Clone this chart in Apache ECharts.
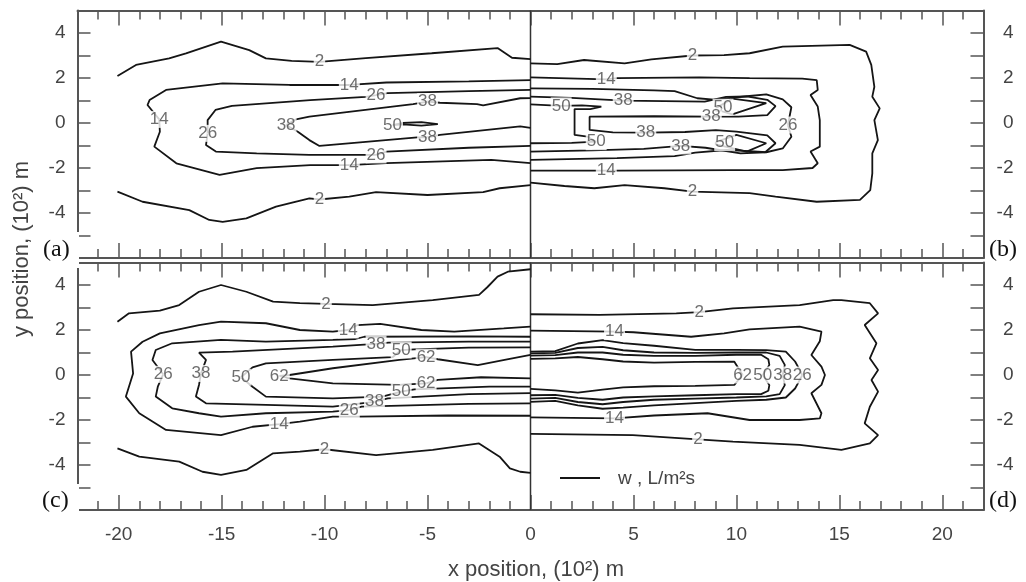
<!DOCTYPE html>
<html><head><meta charset="utf-8">
<script src="https://cdn.jsdelivr.net/npm/echarts@6/dist/echarts.min.js"></script>
<style>html,body{margin:0;padding:0;background:#fff}#c{width:1026px;height:582px}</style>
</head><body><div id="c"></div>
<script>
// ---------- tick labels ----------
const xTicks = ['-22','-21','-20','-19','-18','-17','-16','-15','-14','-13','-12','-11','-10','-9','-8','-7','-6','-5','-4','-3','-2','-1','0','1','2','3','4','5','6','7','8','9','10','11','12','13','14','15','16','17','18','19','20','21','22'];
const xMajor = ['-20','-15','-10','-5','0','5','10','15','20'];
const yLabeled = [-4,-2,0,2,4];

// ---------- panel (a): top-left ----------
const a2Up = [[-20.06,2.09],[-19.16,2.58],[-17.55,2.87],[-16.73,3.09],[-15.03,3.62],[-13.66,3.24],[-12.85,2.87],[-11.6,2.76],[-10.25,2.72],[-8.0,2.88],[-4.8,3.1],[-1.6,3.33],[-0.9,2.9],[0,2.84]];
const a2Low = [[-20.06,-3.05],[-18.84,-3.5],[-16.57,-3.87],[-15.6,-4.31],[-14.95,-4.39],[-13.8,-4.24],[-12.36,-3.72],[-10.74,-3.35],[-10.25,-3.4],[-8.8,-3.27],[-7.5,-3.07],[-5.0,-3.2],[-2.3,-3.07],[-1.5,-2.9],[0,-2.76]];
const a14 = [[0,1.91],[-3,1.85],[-7.0,1.8],[-8.8,1.69],[-10.7,1.69],[-11.7,1.69],[-14.95,1.76],[-17.7,1.47],[-18.5,1.02],[-18.6,0.8],[-18.03,0.16],[-18.0,-0.39],[-18.27,-1.05],[-17.2,-1.79],[-15.1,-2.31],[-13.3,-2.01],[-10.7,-1.87],[-8.8,-1.87],[-7.0,-1.78],[-1.9,-1.64],[0,-1.78]];
const a26 = [[0,1.47],[-3,1.42],[-6.95,1.33],[-7.5,1.24],[-8.0,1.16],[-10.7,1.02],[-14.5,0.76],[-15.3,0.58],[-15.68,0.13],[-15.68,-0.46],[-15.76,-0.98],[-15.28,-1.27],[-13.3,-1.35],[-10.74,-1.42],[-7.5,-1.42],[-7.0,-1.27],[-3,-1.1],[0,-1.02]];
const a38 = [[0,1.11],[-0.5,1.1],[-2.3,0.78],[-2.6,0.84],[-4.4,0.9],[-5.0,0.95],[-5.7,0.84],[-10.74,0.28],[-11.39,0.16],[-11.87,-0.09],[-11.3,-0.39],[-10.74,-0.76],[-10.25,-1.02],[-8.0,-0.84],[-5.5,-0.64],[-5.0,-0.64],[-4.4,-0.53],[-0.5,-0.15],[0,-0.22]];
const a50 = [[-6.7,-0.09],[-6.2,0.0],[-5.3,0.04],[-4.5,-0.05],[-5.3,-0.12],[-6.2,-0.06],[-6.7,-0.09]];
const aLabels = [[-10.25,2.72,'2'],[-10.25,-3.4,'2'],[-18.03,0.16,'14'],[-8.8,1.69,'14'],[-8.8,-1.87,'14'],[-15.68,-0.46,'26'],[-7.5,1.24,'26'],[-7.5,-1.42,'26'],[-11.87,-0.09,'38'],[-5.0,0.95,'38'],[-5.0,-0.64,'38'],[-6.7,-0.09,'50']];

// ---------- panel (b): top-right ----------
const b2 = [[0,2.65],[1.3,2.62],[2.6,2.8],[4.57,2.65],[5.87,2.83],[7.87,3.0],[9.4,3.02],[10.64,3.1],[12.25,3.39],[15.5,3.47],[16.3,3.17],[16.55,2.58],[16.7,1.61],[16.6,1.17],[16.96,0.65],[16.7,0.13],[16.87,-0.76],[16.6,-1.35],[16.6,-2.24],[16.5,-2.98],[16.0,-3.42],[13.9,-3.5],[11.9,-3.27],[10.64,-3.12],[7.87,-3.05],[6.5,-2.9],[4.57,-2.76],[3.1,-2.9],[1.65,-2.8],[0,-2.65]];
const b14 = [[0,2.03],[3.68,1.94],[4.2,1.99],[8.2,2.03],[10.64,1.99],[13.2,1.97],[13.9,1.91],[13.95,1.47],[13.6,1.24],[13.95,0.73],[14.05,0.13],[14.05,-1.05],[13.6,-1.27],[13.95,-1.79],[13.7,-2.0],[12.25,-2.09],[9.8,-2.09],[4.2,-2.12],[3.68,-2.12],[0,-2.12]];
const b26 = [[0,1.54],[3.0,1.52],[6.0,1.45],[7.0,1.42],[8.1,1.1],[8.9,1.04],[10.64,1.2],[11.45,1.27],[12.25,1.05],[12.67,0.7],[12.5,-0.09],[12.67,-0.61],[12.25,-1.13],[11.45,-1.3],[10.64,-1.25],[9.5,-1.2],[8,-1.32],[7,-1.47],[4.2,-1.56],[0,-1.64]];
const b38 = [[0,1.17],[2.0,1.12],[4.5,0.99],[6.5,0.97],[8.46,0.95],[9.5,1.16],[10.5,1.18],[11.5,1.03],[11.9,0.75],[11.5,0.35],[10.1,0.28],[8.78,0.28],[6,0.3],[2.87,0.28],[2.87,-0.31],[4.0,-0.42],[5.6,-0.43],[7.5,-0.4],[9.0,-0.32],[10.0,-0.38],[11.5,-0.55],[11.9,-0.9],[11.4,-1.3],[10.2,-1.35],[8.5,-1.1],[7.3,-1.02],[5.5,-1.15],[3,-1.22],[0,-1.27]];
const b50a = [[0,0.83],[1.49,0.76],[2.5,0.78],[3.44,0.73],[2.9,0.62],[2.14,0.62],[2.14,-0.53],[2.77,-0.61],[3.19,-0.83],[2.0,-0.88],[0,-0.9]];
const b50b = [[9.0,0.66],[9.8,1.08],[11.45,0.88],[9.8,0.38],[9.0,0.6],[9.0,0.66]];
const b50c = [[9.0,-0.85],[10.0,-0.53],[11.45,-0.9],[10.5,-1.27],[9.0,-0.95],[9.0,-0.85]];
const bLabels = [[7.87,3.0,'2'],[7.87,-3.05,'2'],[3.68,1.94,'14'],[3.68,-2.12,'14'],[4.5,0.99,'38'],[1.49,0.76,'50'],[9.35,0.7,'50'],[8.78,0.28,'38'],[12.5,-0.09,'26'],[5.6,-0.43,'38'],[3.19,-0.83,'50'],[7.3,-1.02,'38'],[9.43,-0.87,'50']];

// ---------- panel (c): bottom-left ----------
const c2Up = [[-20.06,2.37],[-19.5,2.74],[-18.0,2.86],[-17.06,3.11],[-16.1,3.7],[-15.03,4.0],[-13.8,3.7],[-12.5,3.26],[-11.2,3.19],[-9.93,3.16],[-7.66,3.11],[-4.75,3.33],[-2.5,3.56],[-2.1,3.9],[-1.6,4.37],[-1.1,4.59],[0,4.7]];
const c2Low = [[-20.06,-3.26],[-19.0,-3.63],[-17.06,-3.85],[-15.93,-4.3],[-15.03,-4.44],[-13.8,-4.22],[-12.5,-3.48],[-11.2,-3.41],[-10.0,-3.3],[-7.5,-3.56],[-4.75,-3.33],[-2.5,-3.04],[-1.5,-3.63],[-1.0,-4.15],[-0.5,-4.3],[0,-4.35]];
const c14 = [[0,2.15],[-1.3,2.07],[-3.7,1.93],[-5.3,2.0],[-7.3,2.27],[-8.4,2.22],[-8.85,2.0],[-9.6,1.93],[-11.2,2.0],[-12.85,2.3],[-15.03,2.37],[-16.1,2.22],[-18.0,1.85],[-18.84,1.48],[-19.4,1.04],[-19.3,0.07],[-19.65,-0.96],[-19.0,-1.7],[-17.7,-2.44],[-15.03,-2.67],[-13.5,-2.3],[-12.2,-2.18],[-11.2,-2.07],[-9.6,-1.85],[-8.4,-1.85],[-4,-1.8],[0,-1.81]];
const c26 = [[0,1.7],[-3,1.72],[-8.07,1.7],[-8.5,1.6],[-9.6,1.56],[-12.85,1.48],[-15.03,1.56],[-17.4,1.41],[-18.2,1.11],[-18.36,0.67],[-17.84,0.03],[-18.1,-0.52],[-18.2,-0.96],[-17.4,-1.48],[-16.1,-1.7],[-15.03,-1.85],[-12.85,-1.7],[-9.6,-1.63],[-8.8,-1.56],[-8.2,-1.41],[-3,-1.28],[0,-1.26]];
const c38 = [[0,1.48],[-3,1.48],[-6.9,1.44],[-7.5,1.38],[-9.6,1.26],[-14.47,1.04],[-16.1,0.99],[-15.76,0.67],[-16.0,0.07],[-16.1,-0.44],[-16.25,-0.96],[-15.76,-1.26],[-12.85,-1.33],[-9.6,-1.41],[-7.58,-1.19],[-6.93,-1.04],[-3,-0.85],[0,-0.81]];
const c50 = [[0,1.23],[-3,1.22],[-5.64,1.14],[-6.28,1.11],[-6.7,0.79],[-9.6,0.67],[-12.85,0.52],[-13.5,0.34],[-14.06,-0.1],[-13.5,-0.52],[-12.85,-0.96],[-9.6,-1.04],[-7.2,-0.96],[-6.28,-0.74],[-5.64,-0.64],[-2,-0.52],[0,-0.52]];
const c62 = [[0,0.89],[-1.26,0.67],[-2.56,0.44],[-4.5,0.7],[-5.07,0.79],[-6.37,0.67],[-9.6,0.3],[-11.7,0.0],[-12.2,-0.04],[-11.7,-0.15],[-9.6,-0.37],[-6.37,-0.44],[-5.07,-0.37],[-4.5,-0.22],[-2.4,-0.1],[0,-0.15]];
const cLabels = [[-9.93,3.16,'2'],[-10.0,-3.3,'2'],[-8.85,2.0,'14'],[-12.2,-2.18,'14'],[-7.5,1.38,'38'],[-6.28,1.11,'50'],[-5.07,0.79,'62'],[-17.84,0.03,'26'],[-16.0,0.07,'38'],[-14.06,-0.1,'50'],[-12.2,-0.04,'62'],[-8.8,-1.56,'26'],[-7.58,-1.19,'38'],[-6.28,-0.74,'50'],[-5.07,-0.37,'62']];

// ---------- panel (d): bottom-right ----------
const d2 = [[0,2.7],[3.35,2.67],[7.08,2.74],[8.2,2.79],[9.83,2.96],[13.07,3.11],[14.7,3.33],[15.1,3.33],[16.48,3.19],[16.88,2.74],[16.23,2.22],[16.8,1.41],[16.48,0.74],[16.88,0.22],[16.56,-0.22],[16.88,-0.74],[16.48,-1.41],[16.23,-2.15],[16.88,-2.67],[16.48,-3.04],[15.1,-3.33],[13.07,-3.11],[9.83,-2.96],[8.13,-2.86],[4.97,-2.67],[0,-2.62]];
const d14 = [[0,1.97],[4.08,1.93],[5,1.9],[7.8,1.7],[9.4,1.85],[10.64,2.03],[13.07,2.15],[14.13,1.93],[14.05,1.5],[13.64,0.89],[14.13,0.37],[14.3,0.0],[14.13,-0.44],[13.64,-0.81],[14.13,-1.7],[14.05,-1.93],[13.07,-2.0],[10.64,-2.0],[8.6,-1.7],[6,-1.8],[4.08,-1.93],[0,-1.88]];
const d26 = [[0,1.04],[1.2,1.06],[2.3,1.4],[3.5,1.55],[4.5,1.42],[6,1.3],[8,1.12],[10,1.12],[11.45,1.11],[12.4,1.04],[12.85,0.6],[13.0,0.35],[13.2,0],[13.0,-0.35],[12.85,-0.6],[12.4,-1.0],[11.45,-1.1],[10,-1.15],[8,-1.25],[6,-1.35],[4.5,-1.45],[3.5,-1.5],[2.3,-1.35],[1.2,-1.15],[0,-1.19]];
const d38 = [[0,0.96],[1.2,0.98],[2.3,1.2],[3.5,1.25],[4.5,1.1],[6,1.0],[8,0.98],[10,1.0],[11.45,1.0],[12.1,0.85],[12.35,0.45],[12.25,0],[12.35,-0.45],[12.1,-0.85],[11.45,-0.95],[10,-1.0],[8,-1.05],[6,-1.1],[4.5,-1.2],[3.5,-1.3],[2.3,-1.2],[1.2,-1.02],[0,-1.05]];
const d50 = [[0,0.86],[1.2,0.88],[2.3,1.0],[3.5,1.0],[4.5,0.9],[6,0.85],[8,0.85],[10,0.9],[11.2,0.9],[11.55,0.7],[11.6,0.45],[11.28,0],[11.6,-0.45],[11.55,-0.7],[11.2,-0.85],[10,-0.85],[8,-0.9],[6,-0.95],[4.5,-1.0],[3.5,-1.1],[2.3,-1.02],[1.2,-0.88],[0,-0.9]];
const d62 = [[0,0.72],[1.2,0.74],[2.3,0.8],[3.5,0.7],[4.5,0.6],[6,0.55],[8,0.58],[9.9,0.59],[10.3,0],[9.9,-0.44],[8,-0.48],[6,-0.5],[4.5,-0.55],[3.5,-0.65],[2.3,-0.78],[1.2,-0.68],[0,-0.62]];
const dLabels = [[8.2,2.79,'2'],[8.13,-2.86,'2'],[4.08,1.93,'14'],[4.08,-1.93,'14'],[10.3,0,'62'],[11.28,0,'50'],[12.25,0,'38'],[13.2,0,'26']];

// ---------- chart ----------
const FRAME = '#555';
const INK = '#151515';
const TXT = '#444';
const grids = [
  {left: 77.5, top: 10.5, width: 906, height: 247.5},
  {left: 77.5, top: 262.5, width: 906, height: 247.5}
];
const xAxes = [], yAxes = [];
grids.forEach((g, gi) => {
  ['bottom','top'].forEach(pos => {
    xAxes.push({type:'value', gridIndex: gi, position: pos, min: -22, max: 22, interval: 1,
      axisLine:{show:true, onZero:false, lineStyle:{color:FRAME, width:2}},
      axisTick:{show:true, inside:true, length:9, lineStyle:{color:FRAME, width:1.5}},
      axisLabel:{show:false}, splitLine:{show:false}});
  });
  ['bottom','top'].forEach(pos => {
    xAxes.push({type:'category', gridIndex: gi, position: pos, data: xTicks, boundaryGap:false,
      axisLine:{show:false, onZero:false},
      axisTick:{show:true, inside:true, length:15, interval:(i,v)=>xMajor.includes(v), lineStyle:{color:FRAME, width:1.5}},
      axisLabel:{show: gi===1 && pos==='bottom', interval:(i,v)=>xMajor.includes(v), color:TXT, fontSize:19, fontFamily:'Liberation Sans', margin:15},
      splitLine:{show:false}});
  });
  ['left','right'].forEach(pos => {
    yAxes.push({type:'value', gridIndex: gi, position: pos, min: -6, max: 5, interval: 1,
      axisLine:{show:true, onZero:false, lineStyle:{color:FRAME, width:2}},
      axisTick:{show:true, inside:true, length:13, lineStyle:{color:FRAME, width:1.5}},
      axisLabel:{show:true, color:TXT, fontSize:19, fontFamily:'Liberation Sans',
        margin: pos==='left' ? 12 : 30, align:'right',
        formatter: v => yLabeled.includes(v) ? String(v) : ''},
      splitLine:{show:false}});
  });
});

function contour(data, gi){
  return {type:'line', xAxisIndex: gi*4, yAxisIndex: gi*2, data: data, symbol:'none', silent:true,
    lineStyle:{color:INK, width:1.8}, z:3, animation:false};
}
function labels(data, gi){
  return {type:'scatter', xAxisIndex: gi*4, yAxisIndex: gi*2, data: data, symbolSize:1, silent:true,
    itemStyle:{color:'#fff'}, z:6, animation:false,
    label:{show:true, position:'inside', formatter: p => p.value[2], color:'#4a4a4a', fontSize:17,
      fontFamily:'Liberation Sans', backgroundColor:'#fff', padding:[0,1]}};
}
function divider(gi){
  return {type:'line', xAxisIndex: gi*4, yAxisIndex: gi*2, data: [[0,-6],[0,5]], symbol:'none', silent:true,
    lineStyle:{color:'#333', width:1.5}, z:2, animation:false};
}

const series = [
  divider(0), divider(1),
  contour(a2Up,0), contour(a2Low,0), contour(a14,0), contour(a26,0), contour(a38,0), contour(a50,0),
  contour(b2,0), contour(b14,0), contour(b26,0), contour(b38,0), contour(b50a,0), contour(b50b,0), contour(b50c,0),
  contour(c2Up,1), contour(c2Low,1), contour(c14,1), contour(c26,1), contour(c38,1), contour(c50,1), contour(c62,1),
  contour(d2,1), contour(d14,1), contour(d26,1), contour(d38,1), contour(d50,1), contour(d62,1),
  labels(aLabels,0), labels(bLabels,0), labels(cLabels,1), labels(dLabels,1)
];

const chart = echarts.init(document.getElementById('c'), null, {renderer:'canvas'});
chart.setOption({
  animation:false,
  backgroundColor:'#fff',
  grid: grids,
  xAxis: xAxes,
  yAxis: yAxes,
  series: series,
  graphic: [
    {type:'rect', left:38, top:232, z:100, shape:{width:41, height:36}, style:{fill:'#fff'}},
    {type:'rect', left:38, top:484, z:100, shape:{width:41, height:36}, style:{fill:'#fff'}},
    {type:'text', left:43, top:238, z:101, style:{text:'(a)', font:'24px "Liberation Serif"', fill:'#111'}},
    {type:'text', left:989, top:238, z:101, style:{text:'(b)', font:'24px "Liberation Serif"', fill:'#111'}},
    {type:'text', left:42, top:489, z:101, style:{text:'(c)', font:'24px "Liberation Serif"', fill:'#111'}},
    {type:'text', left:989, top:489, z:101, style:{text:'(d)', font:'24px "Liberation Serif"', fill:'#111'}},
    {type:'text', z:101, x:22, y:249, rotation:Math.PI/2,
      style:{text:'y position, (10²) m', font:'22px "Liberation Sans"', fill:TXT, align:'center', verticalAlign:'middle'}},
    {type:'text', z:101, x:536, y:570,
      style:{text:'x position, (10²) m', font:'22px "Liberation Sans"', fill:TXT, align:'center', verticalAlign:'middle'}},
    {type:'line', z:101, shape:{x1:560, y1:478, x2:600, y2:478}, style:{stroke:INK, lineWidth:1.8}},
    {type:'text', z:101, x:618, y:479,
      style:{text:'w , L/m²s', font:'19px "Liberation Sans"', fill:TXT, verticalAlign:'middle'}}
  ]
});
</script>
</body></html>
